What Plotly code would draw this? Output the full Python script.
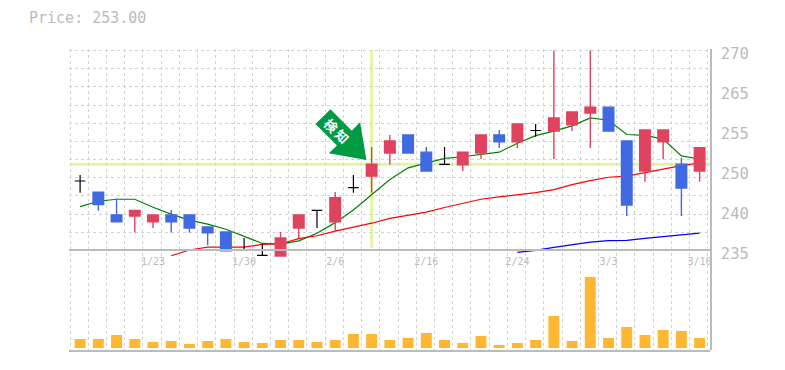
import plotly.graph_objects as go

dates = ["1/17","1/20","1/21","1/22","1/23","1/24","1/27","1/28","1/29","1/30","1/31","2/3","2/4","2/5","2/6","2/7","2/10","2/12",
         "2/13","2/16","2/17","2/18","2/19","2/20","2/24","2/25","2/26","2/27","2/28","3/3","3/4","3/5","3/6","3/7","3/10"]
opens  = [247.15,245.2,241.2,241,240,241.2,241.2,239.1,238.2,235.05,234.1,234,238.9,242,240,246,248,252.05,
          255.2,252.2,250.07,250,252.05,255.2,254,256,255.9,257,259.05,260.1,254.15,248.9,254,250.1,248.9]
highs  = [248.2,245.2,244.1,242,241.2,242.05,241.2,239.1,238.2,237.15,236.1,238.2,241.2,242,245.2,248.2,253.1,255.2,
          255.2,253.1,253.1,252.2,255.2,256.1,257.15,257.15,270,259.25,270,260.1,254.15,256.1,256.1,251.2,253.1]
lows   = [245.1,241.95,240,238.1,238.9,238.1,238.1,235.9,234.9,235.05,234.1,234,237.15,238.9,238.2,245.1,245.1,250,
          252.05,248.9,250.07,248.9,251,252.95,252.95,254.9,251,255.9,252.95,255.9,241,247,251,241,247]
closes = [247.15,243,240,242,241.2,240,238.9,238.05,234.9,235.05,234.1,237.15,241.2,242,244.2,246,250.1,254.15,
          252.05,248.9,250.07,252.2,255.2,254,257.15,256,258.2,259.25,260.1,255.9,242.95,256.1,256.1,245.9,253]
ma_short = [242.65,243.6,243.95,243.95,242.55,241.35,240.3,239.6,238.7,237.5,236.2,236.1,236.65,238,239.85,242.05,244.8,247.4,
            249.45,250.25,251.1,251.4,251.8,252.2,253.75,255.1,255.9,256.8,258.2,257.8,255.3,255.15,254.5,251.55,251]
ma_mid = [None]*5 + [234.05,235.05,235.55,235.5,235.55,236.05,236.15,237.05,237.55,238.35,239,239.75,240.6,
          241.1,241.7,242.5,243.25,243.95,244.35,244.75,245.1,245.65,246.5,247.2,247.8,248,248.6,249.3,249.85,250.3]
ma_long = [None]*24 + [234.65,235,235.5,235.95,236.45,236.7,236.75,237.1,237.4,237.65,238]
volumes = [27,27,39,27,18,21,12,21,27,18,15,24,24,18,24,42,42,24,
           30,45,24,15,36,9,15,24,96,21,213,30,63,39,54,51,30]
label_idx = [4,9,14,19,24,29,34]
price_ticks = [270,263,256,249,242,235]
price_labels = ["270","265","255","250","240","235"]
signal_idx = 16
signal_price = 250.07

UP, DOWN, GRID, TEXT = "#E0435F", "#4169E1", "#d2d2d2", "#bbbbbb"
HILITE, AMBER, ARROW = "#E4F5A5", "#FFB733", "#009944"
W, H, L, R, T, B = 785, 370, 69, 74.5, 49, 20
PW, PH = W - L - R, H - T - B
px = lambda x: (x - L) / PW
py = lambda y: (H - B - y) / PH

xs = list(range(len(dates)))
normal = [i for i in xs if opens[i] != closes[i]]
doji = [i for i in xs if opens[i] == closes[i]]
pick = lambda a, idx: [a[i] for i in idx]

fig = go.Figure()
for vals, color in ((ma_short, "#008000"), (ma_mid, "#ff0000"), (ma_long, "#0000ff")):
    fig.add_trace(go.Scatter(x=xs, y=vals, mode="lines", line=dict(color=color, width=1.2),
                             xaxis="x", yaxis="y", hoverinfo="skip"))
fig.add_trace(go.Candlestick(
    x=normal, open=pick(opens, normal), high=pick(highs, normal), low=pick(lows, normal), close=pick(closes, normal),
    increasing=dict(line=dict(color=UP, width=1.4), fillcolor=UP),
    decreasing=dict(line=dict(color=DOWN, width=1.4), fillcolor=DOWN),
    whiskerwidth=0, xaxis="x", yaxis="y3"))
fig.add_trace(go.Candlestick(
    x=doji, open=pick(opens, doji), high=pick(highs, doji), low=pick(lows, doji), close=pick(closes, doji),
    increasing=dict(line=dict(color="#000000", width=1.2), fillcolor="#000000"),
    decreasing=dict(line=dict(color="#000000", width=1.2), fillcolor="#000000"),
    whiskerwidth=0, xaxis="x", yaxis="y3"))
fig.add_trace(go.Bar(x=xs, y=volumes, width=0.6, marker=dict(color=AMBER, line=dict(width=0)),
                     xaxis="x2", yaxis="y2"))

xrange = [-0.61, 34.57]
yrange = [217.53, 270.28]
n_h = 11
h_grid = [235 + 35 * k / n_h for k in range(n_h + 1)]
v_grid = [-0.55 + k for k in range(36)]
xcommon = dict(range=xrange, showgrid=False, zeroline=False, showline=True, linecolor=TEXT,
               linewidth=1.5, fixedrange=True, rangeslider=dict(visible=False))
fig.update_layout(
    width=W, height=H, margin=dict(l=L, r=R, t=T, b=B, pad=0), autosize=False,
    paper_bgcolor="white", plot_bgcolor="rgba(0,0,0,0)", showlegend=False, bargap=0.4, boxgap=0.42, boxgroupgap=0,
    title=dict(text=f"Price: {closes[-1] + 0:.2f}", x=29 / W, xanchor="left", xref="container",
               y=1 - 18 / H, yanchor="middle", yref="container",
               font=dict(family="DejaVu Sans Mono", size=15, color=TEXT)),
    font=dict(family="DejaVu Sans Mono", color=TEXT),
    xaxis=dict(xcommon, anchor="free", position=py(250.3), tickmode="array", tickvals=label_idx,
               ticktext=pick(dates, label_idx), ticks="", tickfont=dict(size=10, color=TEXT), ticklabelstandoff=2,
               minor=dict(tickmode="array", tickvals=v_grid, showgrid=True, gridcolor=GRID, griddash="3px,3px",
                          gridwidth=1, ticks="")),
    xaxis2=dict(xcommon, anchor="y2", matches="x", showticklabels=False, ticks=""),
    yaxis=dict(domain=[0, 1], range=yrange, side="right", anchor="x", tickmode="array", tickvals=price_ticks,
               ticktext=price_labels, ticks="", showgrid=False, zeroline=False, showline=True, linecolor=TEXT,
               linewidth=1.5, tickfont=dict(size=15.5, color=TEXT), ticklabelstandoff=6, ticklabelshift=3,
               minor=dict(tickmode="array", tickvals=h_grid, showgrid=True, gridcolor=GRID, griddash="3px,3px",
                          gridwidth=1, ticks=""), fixedrange=True),
    yaxis2=dict(domain=[0, py(250.3)], range=[-6, 293], side="right", anchor="x2", showticklabels=False, ticks="",
                showgrid=False, zeroline=False, showline=False, fixedrange=True),
    yaxis3=dict(overlaying="y", range=yrange, matches="y", visible=False, side="right", anchor="x", fixedrange=True),
    shapes=[
        dict(type="line", xref="x", yref="y", x0=-0.55, x1=xrange[1], y0=signal_price, y1=signal_price,
             line=dict(color=HILITE, width=3), layer="below"),
        dict(type="line", xref="x", yref="y", x0=signal_idx, x1=signal_idx, y0=235.4, y1=270,
             line=dict(color=HILITE, width=3), layer="below"),
        dict(type="path", xref="paper", yref="paper", layer="above", line=dict(width=0), fillcolor=ARROW,
             path="M " + " L ".join(f"{px(a / 3):.5f},{py(b / 3):.5f}" for a, b in
                                    [(992, 328), (1056, 392), (1081, 367), (1100, 480), (987, 460), (1011.5, 436.5), (947, 372)]) + " Z"),
    ],
    annotations=[
        dict(text="<b>検</b>", x=px(331.7), y=py(125), xref="paper", yref="paper", showarrow=False, textangle=45,
             xanchor="center", yanchor="middle", font=dict(family="Noto Sans CJK JP", size=13, color="white")),
        dict(text="<b>知</b>", x=px(343), y=py(136), xref="paper", yref="paper", showarrow=False, textangle=45,
             xanchor="center", yanchor="middle", font=dict(family="Noto Sans CJK JP", size=13, color="white")),
    ],
)
fig.write_html("out.html", config=dict(displayModeBar=False),
               post_script="document.body.style.margin='0';document.documentElement.style.overflow='hidden';")
